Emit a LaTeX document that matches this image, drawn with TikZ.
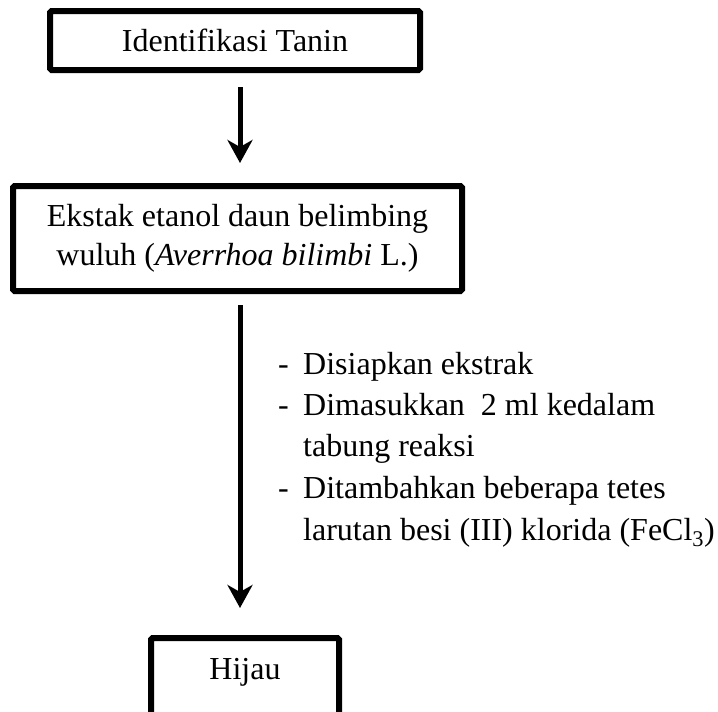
\documentclass[tikz,border=0pt]{standalone}
\usepackage{fontspec}
\setmainfont{Liberation Serif}
\usetikzlibrary{arrows.meta,calc}
\begin{document}
\begin{tikzpicture}[x=1pt,y=-1pt,
  box/.style={draw, line width=6pt, rounded corners=1.5pt, inner sep=0pt, align=center, font=\fontsize{32}{39}\selectfont},
  arr/.style={line width=5pt, -{Stealth[length=23pt,width=25pt,inset=7pt]}},
  txt/.style={anchor=base west, inner sep=0pt, font=\fontsize{32}{39}\selectfont}]
\path[use as bounding box] (0,0) rectangle (718,712);
\clip (0,0) rectangle (718,712);
\fill[white] (0,0) rectangle (718,712);
\coordinate (ax) at (240,0);
\node[box, minimum width=370pt, minimum height=59pt] (b1) at (235,40.5) {Identifikasi Tanin};
\node[box, minimum width=449pt, minimum height=105pt] (b2) at (237.5,238.5) {Ekstak etanol daun belimbing\\wuluh (\textit{Averrhoa bilimbi} L.)};
\node[box, minimum width=188pt, minimum height=122pt] (b3) at (245,699) {};
\node[txt, anchor=base] (h) at (245,679) {Hijau};
\draw[arr] ($(b1.south -| ax)+(0,14)$) -- ($(b2.north -| ax)+(0,-20)$);
\draw[arr] ($(b2.south -| ax)+(0,11)$) -- ($(b3.north -| ax)+(0,-27)$);
\node[txt] (d1) at (278,374) {-};
\node[txt] (t1) at (303,374) {Disiapkan ekstrak};
\node[txt] (d2) at (278,415) {-};
\node[txt] (t2) at (303,415) {Dimasukkan\ \ 2 ml kedalam};
\node[txt] (t3) at (303,456) {tabung reaksi};
\node[txt] (d4) at (278,498) {-};
\node[txt] (t4) at (303,498) {Ditambahkan beberapa tetes};
\node[txt] (t5) at (303,540) {larutan besi (III) klorida (FeCl\textsubscript{3})};
\end{tikzpicture}
\end{document}
